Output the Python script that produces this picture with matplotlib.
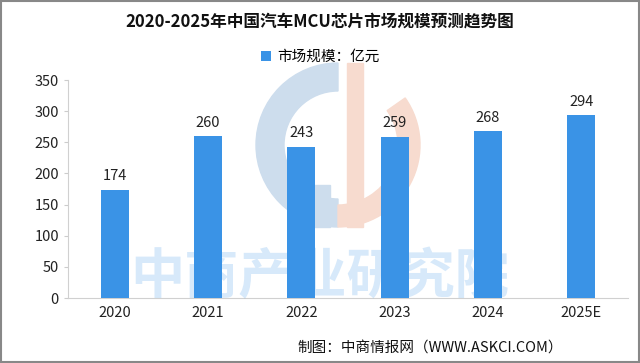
import matplotlib.pyplot as plt
from matplotlib.patches import Rectangle, Wedge

plt.rcParams['font.family'] = ['Noto Sans CJK SC', 'DejaVu Sans']

years = ['2020', '2021', '2022', '2023', '2024', '2025E']
market_size = [174, 260, 243, 259, 268, 294]

fig = plt.figure(figsize=(6.4, 3.63), dpi=100)

# background logo, drawn in pixel coordinates on a full-figure axes
bg = fig.add_axes([0, 0, 1, 1], zorder=0)
bg.set_xlim(0, 640)
bg.set_ylim(363, 0)
bg.axis('off')
logo_blue = '#cddded'
logo_orange = '#f7dbcf'
bg.add_patch(Wedge((338, 145), 82, 90, 270, width=28, color=logo_blue))
bg.add_patch(Rectangle((310, 185), 20, 42, color=logo_blue))
bg.add_patch(Wedge((338, 145), 82, -35, 90, width=22, color=logo_orange))
bg.add_patch(Rectangle((347, 63), 16, 164, color=logo_orange))

ax = fig.add_axes([68 / 640, 1 - 298 / 363, 560 / 640, 218 / 363], zorder=1)
ax.patch.set_alpha(0)

x = range(len(years))
ax.bar(x, market_size, width=0.3, color='#3a93e6', label='市场规模：亿元', zorder=3)
for xi, v in zip(x, market_size):
    ax.text(xi, v + 10, str(v), ha='center', va='bottom', fontsize=10.5, color='#222222', zorder=4)

ax.set_xlim(-0.5, len(years) - 0.5)
ax.set_ylim(0, 350)
ax.set_yticks(range(0, 351, 50))
ax.set_xticks(list(x))
ax.set_xticklabels(years)
ax.tick_params(axis='both', labelsize=10.5, colors='#222222')
ax.tick_params(axis='y', length=3, color='#cccccc')
ax.tick_params(axis='x', length=0, pad=6)
for s in ['top', 'right']:
    ax.spines[s].set_visible(False)
ax.spines['left'].set_color('#d0d0d0')
ax.spines['bottom'].set_color('#d0d0d0')

# watermark text over the bars
fig.text(320 / 640, 1 - 278 / 363, '中商产业研究院', ha='center', va='center', fontsize=39,
         fontweight='bold', color='#3a93e6', alpha=0.2, zorder=5)

fig.text(0.5, 1 - 22 / 363, '2020-2025年中国汽车MCU芯片市场规模预测趋势图', ha='center', va='center',
         fontsize=12, fontweight='bold', color='#111111')
fig.legend(loc='center', bbox_to_anchor=(0.5, 1 - 57 / 363), frameon=False, fontsize=10.5,
           handlelength=0.7, handleheight=0.7, handletextpad=0.4)
fig.text(430 / 640, 1 - 348 / 363, '制图：中商情报网（WWW.ASKCI.COM）', ha='center', va='center',
         fontsize=10.5, color='#111111')

fig.patches.append(Rectangle((0.002, 0.003), 0.996, 0.994, transform=fig.transFigure,
                             fill=False, edgecolor='#888888', linewidth=1.5))

fig.savefig('out.png', dpi=100)
